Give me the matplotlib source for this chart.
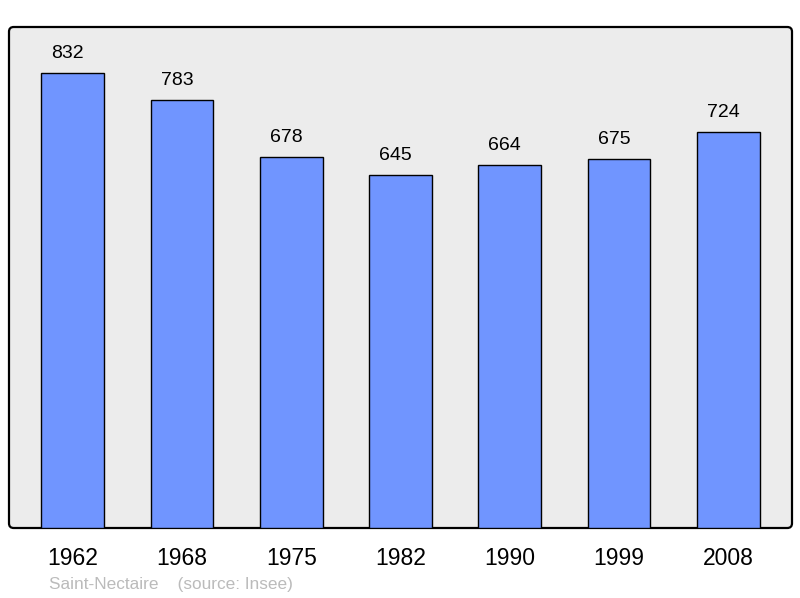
import matplotlib
matplotlib.use("Agg")
import matplotlib.pyplot as plt
from matplotlib.patches import FancyBboxPatch

years = ["1962", "1968", "1975", "1982", "1990", "1999", "2008"]
population = [832, 783, 678, 645, 664, 675, 724]
footer = "Saint-Nectaire    (source: Insee)"

plt.rcParams['font.family'] = ['Liberation Sans', 'DejaVu Sans']

fig = plt.figure(figsize=(8.0, 5.98), dpi=100)
W, H = 800, 598
ax = fig.add_axes([9 / W, (H - 528) / H, 783 / W, 501 / H])
ax.patch.set_visible(False)
for s in ax.spines.values():
    s.set_visible(False)

box = FancyBboxPatch((0, 0), 1, 1, boxstyle="round,pad=0,rounding_size=0.006",
                     mutation_aspect=783 / 501, transform=ax.transAxes,
                     facecolor="#ececec", edgecolor="black", linewidth=1.6,
                     zorder=0, clip_on=False)
ax.add_patch(box)

x = list(range(len(years)))
bars = ax.bar(x, population, width=0.575, color="#7095ff", edgecolor="black",
              linewidth=1.0, zorder=2)

ax.set_xlim(-0.585, len(years) - 1 + 0.585)
ax.set_ylim(0, 916)
ax.set_yticks([])
ax.set_xticks(x)
ax.set_xticklabels(years, fontsize=16.5)
ax.tick_params(axis='x', length=0, pad=14)

for xi, v in zip(x, population):
    ax.annotate(str(v), (xi, v), xytext=(-3.6, 10.8), textcoords="offset points",
                ha="center", va="baseline", fontsize=14)

fig.text(49 / W, 1 - 584 / H, footer, color="#bbbbbb", fontsize=12.4,
         ha="left", va="center")

fig.savefig("out.png", dpi=100)
